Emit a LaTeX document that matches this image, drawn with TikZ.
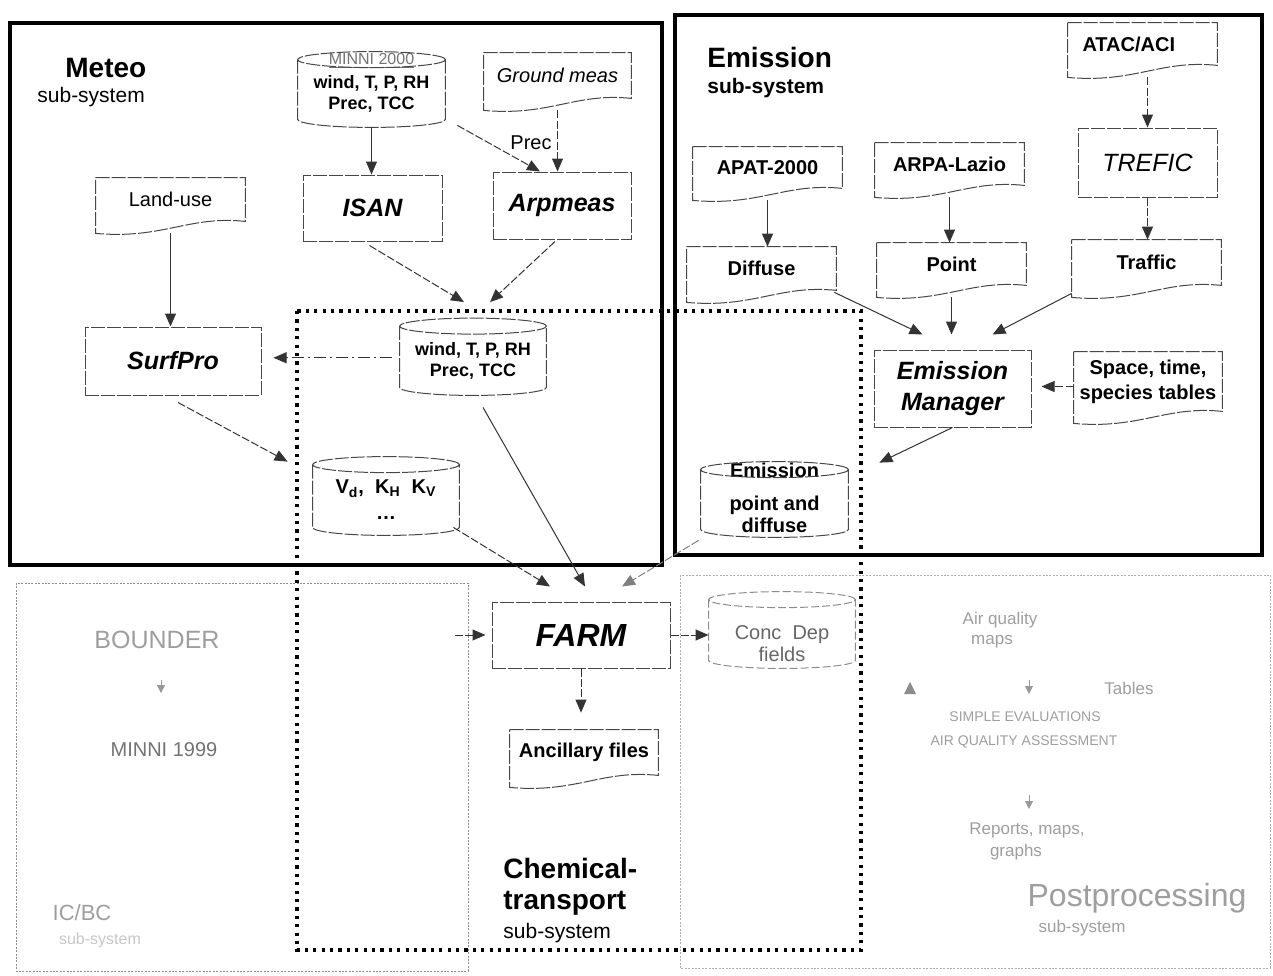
\documentclass[tikz,border=0pt]{standalone}
\usepackage{fontspec}
\setmainfont{Liberation Sans}
\usetikzlibrary{arrows.meta,calc}
\begin{document}
\begin{tikzpicture}[x=0.5pt,y=-0.5pt,
  frame/.style={draw=black,line width=1.7pt},
  ctmframe/.style={draw=black,line width=1.6pt,dash pattern=on 1.6pt off 2.6pt},
  ghostframe/.style={draw=black!45,line width=0.5pt,dash pattern=on 1pt off 0.7pt},
  outl/.style={draw=black!72,line width=0.5pt,dash pattern=on 7pt off 1pt},
  faintoutl/.style={draw=black!45,line width=0.5pt,dash pattern=on 4pt off 1.5pt},
  conn/.style={draw=black!80,line width=0.5pt,-{Triangle[length=6.5pt,width=5.5pt]}},
  dconn/.style={conn,dash pattern=on 4pt off 1.2pt},
  ghostarrow/.style={draw=black!40,line width=0.4pt,-{Triangle[length=4pt,width=4pt]}},
  procbox/.style={outl,inner sep=1pt,align=center},
  plain/.style={inner sep=1pt,align=center},
  ttl/.style={font=\fontsize{14}{16}\selectfont\bfseries,anchor=west,inner sep=0pt},
  subttl/.style={font=\fontsize{10.5}{12}\selectfont,anchor=west,inner sep=0pt},
  bi/.style={font=\fontsize{12.5}{15.5}\selectfont\bfseries\itshape},
  bt/.style={font=\fontsize{10}{12}\selectfont\bfseries},
  ghosttext/.style={text=black!38,inner sep=0pt,align=center,font=\fontsize{8.5}{10}\selectfont},
]
\useasboundingbox (0,0) rectangle (1273,975);

% ---------- frames ----------
\draw[frame] (10,23) rectangle (662,565);
\draw[frame] (675,15) rectangle (1262,555);
\draw[ghostframe] (16,583) rectangle (468,971);
\draw[ghostframe,draw=black!32] (680,575) rectangle (1270,968);
\draw[ctmframe] (297,311) rectangle (861,950);

% ---------- titles ----------
\node[ttl] (meteo-t) at (65,68) {Meteo};
\node[subttl] (meteo-s) at (37,97) {sub-system};
\node[ttl] (emis-t) at (707,57) {Emission};
\node[subttl,font=\fontsize{10.5}{12}\selectfont\bfseries] (emis-s) at (707,88) {sub-system};
\node[ttl] (ctm-t1) at (503,868) {Chemical-};
\node[ttl] (ctm-t2) at (503,903) {transport};
\node[subttl] (ctm-s) at (503,933) {sub-system};

% ---------- meteo nodes ----------
\node[plain,minimum width=73.5pt,minimum height=25.5pt,font=\fontsize{9}{10.5}\selectfont\bfseries] (minni) at (371.5,93.5) {wind, T, P, RH\\Prec, TCC};
\node[ghosttext,text=black!55,font=\fontsize{8}{9}\selectfont] (minni-h) at (371.5,61) {\underline{MINNI 2000}};
\node[plain,minimum width=73.5pt,minimum height=22.5pt,font=\fontsize{10}{12}\selectfont\itshape] (ground) at (557.5,75.5) {Ground meas};
\node[procbox,minimum width=69.5pt,minimum height=33pt,bi] (isan) at (372.5,208) {ISAN};
\node[procbox,minimum width=69pt,minimum height=33.5pt,bi] (arpmeas) at (562,205.5) {Arpmeas};
\node[plain,minimum width=74.5pt,minimum height=21.5pt,font=\fontsize{10}{12}\selectfont] (landuse) at (170.5,199.5) {Land-use};
\node[procbox,minimum width=88pt,minimum height=34pt,bi] (surfpro) at (173,361) {SurfPro};
\node[plain,minimum width=73pt,minimum height=26.25pt,font=\fontsize{9}{10.5}\selectfont\bfseries] (metcyl) at (473,360.75) {wind, T, P, RH\\Prec, TCC};
\node[plain,minimum width=73pt,minimum height=27pt,font=\fontsize{10}{13}\selectfont\bfseries] (vd) at (386,500) {V\textsubscript{d},\ \ K\textsubscript{H}\ \ K\textsubscript{V}\\\dots};
\node[plain,font=\fontsize{10}{12}\selectfont] (prec) at (531,143) {Prec};

% ---------- emission nodes ----------
\node[plain,bt,minimum width=74.5pt,minimum height=21pt,text width=60pt,align=left] (atac) at (1142.5,44) {ATAC/ACI};
\node[procbox,minimum width=69.5pt,minimum height=34.5pt,font=\fontsize{12.5}{15}\selectfont\itshape] (trefic) at (1147.5,162.5) {TREFIC};
\node[plain,bt,minimum width=74.5pt,minimum height=20.5pt] (apat) at (767.5,167.5) {APAT-2000};
\node[plain,bt,minimum width=74.5pt,minimum height=21pt] (arpa) at (949.5,164) {ARPA-Lazio};
\node[plain,bt,minimum width=74.5pt,minimum height=21.5pt] (diffuse) at (761.5,268.5) {Diffuse};
\node[plain,bt,minimum width=74.5pt,minimum height=21pt] (point) at (951.5,264) {Point};
\node[plain,bt,minimum width=74.5pt,minimum height=22.5pt] (traffic) at (1146.5,262.5) {Traffic};
\node[procbox,minimum width=78.5pt,minimum height=38.5pt,bi] (emman) at (952.5,388.5) {Emission\\Manager};
\node[plain,minimum width=74pt,minimum height=29.5pt,font=\fontsize{10}{12.5}\selectfont\bfseries] (space) at (1148,381.5) {Space, time,\\species tables};
\node[plain,minimum width=73.5pt,minimum height=25.5pt] (emcyl) at (774.5,503.5) {};
\node[plain,font=\fontsize{10}{11}\selectfont\bfseries] (emcyl-t) at (774.5,514) {point and\\diffuse};
\node[plain,bt] (emcyl-h) at (774.5,470) {Emission};

% ---------- chemical transport nodes ----------
\node[procbox,minimum width=89pt,minimum height=33pt,font=\fontsize{16}{19}\selectfont\bfseries\itshape] (farm) at (581,635) {FARM};
\node[plain,bt,minimum width=74pt,minimum height=22.5pt] (ancillary) at (584,752.5) {Ancillary files};
\node[plain,minimum width=73pt,minimum height=26pt] (conc) at (782,634) {};
\node[plain,text=black!60,font=\fontsize{10}{11}\selectfont] (conc-t) at (782,644) {Conc\ \ Dep\\fields};

% ---------- outlines: cylinders ----------
\foreach \c in {minni,metcyl,vd,emcyl}
  \draw[outl] let \p1=(\c.south west), \p2=(\c.north east) in
   (\x1,{\y2+4pt}) -- (\x1,\y1) arc[start angle=180,end angle=360,x radius={(\x2-\x1)/2},y radius=4pt] -- (\x2,{\y2+4pt})
   ({(\x1+\x2)/2},{\y2+4pt}) ellipse[x radius={(\x2-\x1)/2},y radius=4pt];
\draw[faintoutl] let \p1=(conc.south west), \p2=(conc.north east) in
   (\x1,{\y2+4pt}) -- (\x1,\y1) arc[start angle=180,end angle=360,x radius={(\x2-\x1)/2},y radius=4pt] -- (\x2,{\y2+4pt})
   ({(\x1+\x2)/2},{\y2+4pt}) ellipse[x radius={(\x2-\x1)/2},y radius=4pt];

% ---------- outlines: documents ----------
\foreach \c in {landuse,ground,atac,apat,arpa,diffuse,point,traffic,space,ancillary}
  \draw[outl] let \p1=(\c.south west), \p2=(\c.north east) in
   (\x1,\y2) -- (\x2,\y2) -- (\x2,\y1) .. controls ({\x1+0.62*(\x2-\x1)},{\y1+3pt}) and ({\x1+0.45*(\x2-\x1)},{\y1-9pt}) .. (\x1,{\y1-6pt}) -- cycle;

% ---------- connectors ----------
\draw[conn,shorten <=4pt] (minni.south) -- (minni.south |- isan.north);
\draw[dconn] ($(minni.south east)+(12,6)$) -- ($(arpmeas.north)+(-22,0)$);
\draw[dconn,shorten <=6pt] (ground.south) -- (ground.south |- arpmeas.north);
\draw[conn,shorten <=6pt] (landuse.south) -- (landuse.south |- surfpro.north);
\draw[dconn] ($(isan.south)+(-3,4)$) -- ($(metcyl.north)+(-9,-32)$);
\draw[dconn] ($(arpmeas.south)+(-7,2)$) -- ($(metcyl.north)+(17,-32)$);
\draw[conn,dash pattern=on 6pt off 2pt on 1pt off 2pt,shorten <=4pt,shorten >=6pt] ($(metcyl.west)+(0,-3)$) -- ($(metcyl.west -| surfpro.east)+(0,-3)$);
\draw[dconn] ($(surfpro.south)+(5,7)$) -- ($(vd.north west)+(-25,-11)$);
\draw[dconn] ($(vd.south east)+(-6,0)$) -- ($(farm.north)+(-31,-15)$);
\draw[conn] ($(metcyl.south)+(10,20)$) -- ($(farm.north)+(4,-15)$);
\draw[dconn,draw=black!50] ($(emcyl.south west)+(-2,11)$) -- ($(farm.north)+(41,-15)$);
\draw[conn] ($(diffuse.south east)+(-2,2)$) -- ($(emman.north)+(-30,-15)$);
\draw[conn,shorten <=6pt] (point.south) -- ($(point.south |- emman.north)+(0,-15)$);
\draw[conn] ($(traffic.south west)+(0,8)$) -- ($(emman.north)+(40,-15)$);
\draw[dconn,shorten >=5pt] ($(space.west)+(0,5)$) -- ($(space.west -| emman.east)+(0,5)$);
\draw[conn] (emman.south) -- ($(emcyl.north east)+(31,-15)$);
\draw[dconn,shorten <=6pt] (trefic.north |- atac.south) -- (trefic.north);
\draw[dconn] (trefic.south) -- (trefic.south |- traffic.north);
\draw[conn,shorten <=6pt] (apat.south) -- (apat.south |- diffuse.north);
\draw[conn,shorten <=6pt] (arpa.south) -- (arpa.south |- point.north);
\draw[dconn] (farm.south) -- ($(farm.south |- ancillary.north)+(0,-17)$);
\draw[dconn] (farm.east) -- (farm.east -| conc.west);
\coordinate (bndout) at (455,635);
\draw[dconn,shorten >=3pt] (bndout) -- (farm.west);

% ---------- faded lower-left panel ----------
\node[ghosttext,font=\fontsize{12.5}{14}\selectfont] (bounder) at (157,640) {BOUNDER};
\draw[ghostarrow] (161,680) -- (161,693);
\node[ghosttext,text=black!55,font=\fontsize{10}{12}\selectfont] (minni99) at (164,750) {MINNI 1999};
\node[ghosttext,font=\fontsize{11}{13}\selectfont] (icbc) at (82,913) {IC/BC};
\node[ghosttext,text=black!22,font=\fontsize{8}{10}\selectfont] (icbc-s) at (100,940) {sub-system};

% ---------- faded postprocessing panel ----------
\node[ghosttext] (aq1) at (1000,620) {Air quality};
\node[ghosttext] (aq2) at (992,642) {maps};
\fill[black!45] (904,694) -- (916,694) -- (910,682) -- cycle;
\draw[ghostarrow] (1029,680) -- (1029,694);
\node[ghosttext] (tables) at (1129,688) {Tables};
\node[ghosttext,font=\fontsize{7}{8}\selectfont] (simple) at (1025,717) {SIMPLE EVALUATIONS};
\node[ghosttext,font=\fontsize{7}{8}\selectfont] (aqa) at (1024,742) {AIR QUALITY ASSESSMENT};
\draw[ghostarrow] (1029,795) -- (1029,809);
\node[ghosttext] (reports) at (1027,830) {Reports, maps,};
\node[ghosttext] (graphs) at (1016,852) {graphs};
\node[ghosttext,font=\fontsize{16}{19}\selectfont] (postp) at (1137,898) {Postprocessing};
\node[ghosttext] (posts) at (1082,928) {sub-system};
\end{tikzpicture}
\end{document}
